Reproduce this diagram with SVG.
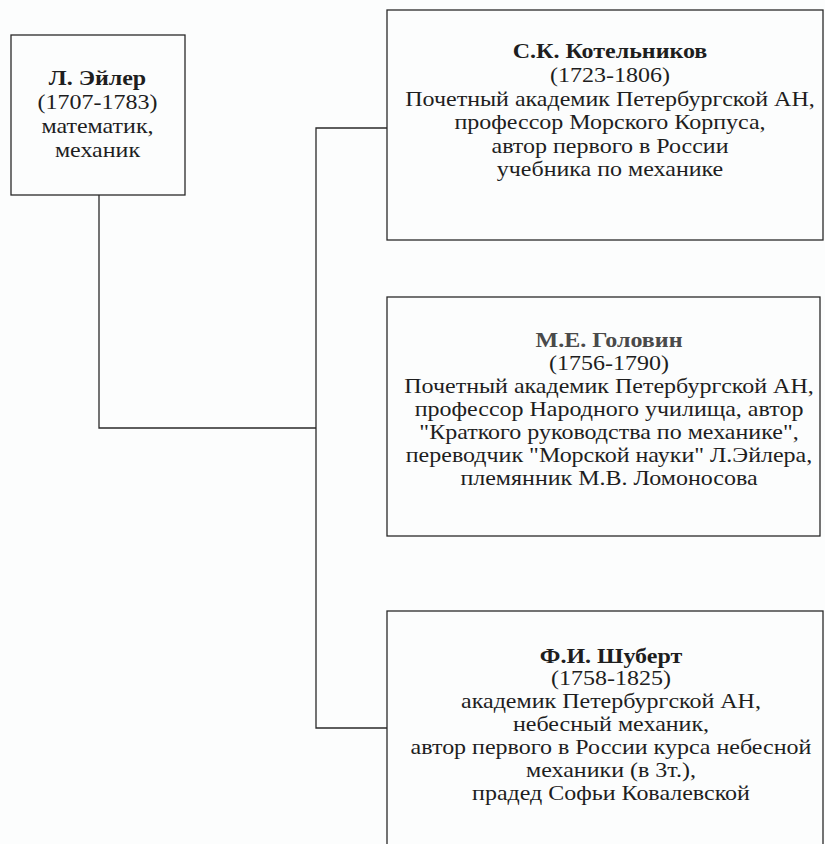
<svg xmlns="http://www.w3.org/2000/svg" width="825" height="844" viewBox="0 0 825 844">
<style>
.box{fill:none;stroke:#2a2a2a;stroke-width:1.3}
.con{fill:none;stroke:#2a2a2a;stroke-width:1.3}
text{font-family:"Liberation Serif","Times New Roman",serif;font-size:20px;fill:#1e1e1e;text-anchor:middle}
.b{font-weight:bold}
.faded{fill:#4a4a4a}
</style>
<rect width="825" height="844" fill="#fcfdfd"/>
<g id="connectors">
<polyline class="con" points="99,195 99,428 316,428"/>
<polyline class="con" points="387,128 316,128 316,728 387,728"/>
</g>
<g id="euler">
<rect class="box" x="11" y="35" width="174" height="160"/>
<g transform="translate(97.5,0) scale(1.2,1)">
<text x="0" y="85" class="b">Л. Эйлер</text>
<text x="0" y="109">(1707-1783)</text>
<text x="0" y="133">математик,</text>
<text x="0" y="157">механик</text>
</g>
</g>
<g id="kotelnikov">
<rect class="box" x="387" y="10" width="436" height="230"/>
<g transform="translate(610,0) scale(1.2,1)">
<text x="0" y="58" class="b">С.К. Котельников</text>
<text x="0" y="82">(1723-1806)</text>
<text x="0" y="106">Почетный академик Петербургской АН,</text>
<text x="0" y="129">профессор Морского Корпуса,</text>
<text x="0" y="153">автор первого в России</text>
<text x="0" y="176">учебника по механике</text>
</g>
</g>
<g id="golovin">
<rect class="box" x="387" y="297" width="433" height="239"/>
<g transform="translate(609,0) scale(1.2,1)">
<text x="0" y="347" class="b faded">М.Е. Головин</text>
<text x="0" y="370">(1756-1790)</text>
<text x="0" y="393">Почетный академик Петербургской АН,</text>
<text x="0" y="416">профессор Народного училища, автор</text>
<text x="0" y="439">"Краткого руководства по механике",</text>
<text x="0" y="462">переводчик "Морской науки" Л.Эйлера,</text>
<text x="0" y="485">племянник М.В. Ломоносова</text>
</g>
</g>
<g id="shubert">
<rect class="box" x="387" y="611" width="436" height="240"/>
<g transform="translate(611,0) scale(1.2,1)">
<text x="0" y="663" class="b">Ф.И. Шуберт</text>
<text x="0" y="685">(1758-1825)</text>
<text x="0" y="708">академик Петербургской АН,</text>
<text x="0" y="731">небесный механик,</text>
<text x="0" y="754">автор первого в России курса небесной</text>
<text x="0" y="777">механики (в 3т.),</text>
<text x="0" y="800">прадед Софьи Ковалевской</text>
</g>
</g>
</svg>
